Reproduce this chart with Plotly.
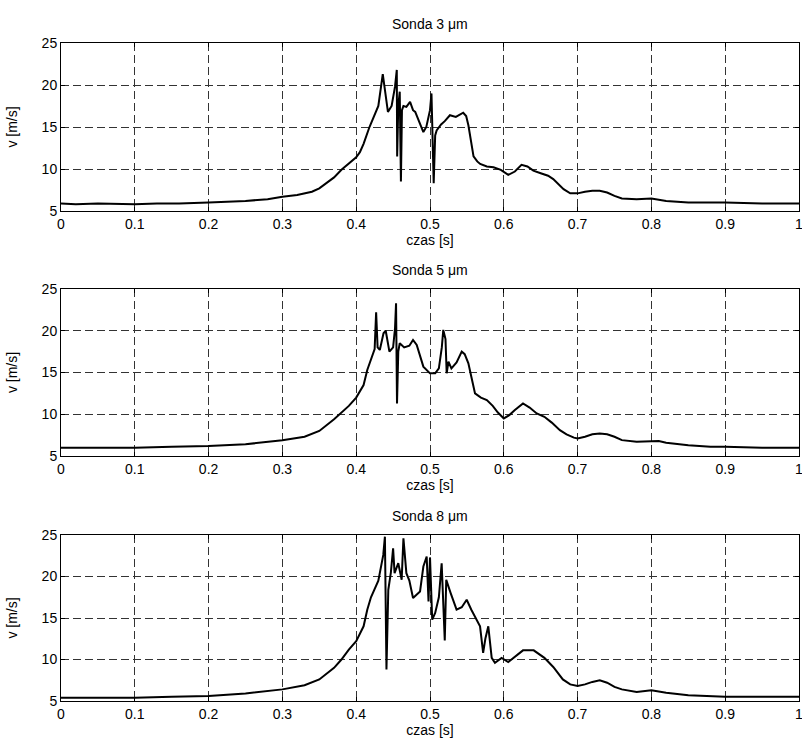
import plotly.graph_objects as go

# ---- data ----
t1 = [0, 0.02, 0.05, 0.08, 0.1, 0.13, 0.16, 0.2, 0.23, 0.25, 0.28, 0.3, 0.32, 0.34, 0.35, 0.36, 0.37, 0.38, 0.39, 0.4,
      0.405, 0.41, 0.418, 0.425, 0.43, 0.436, 0.44, 0.443, 0.448, 0.4526, 0.455, 0.4555, 0.457, 0.459, 0.4606, 0.462,
      0.464, 0.468, 0.473, 0.477, 0.48, 0.485, 0.491, 0.495, 0.5, 0.502, 0.5035, 0.505, 0.507, 0.509, 0.515, 0.52,
      0.527, 0.535, 0.545, 0.549, 0.552, 0.556, 0.559, 0.564, 0.568, 0.577, 0.586, 0.596, 0.606, 0.615, 0.624, 0.632,
      0.64, 0.65, 0.66, 0.667, 0.674, 0.681, 0.69, 0.7, 0.71, 0.72, 0.73, 0.74, 0.75, 0.76, 0.78, 0.8, 0.82, 0.85,
      0.88, 0.9, 0.95, 1.0]
v1 = [5.9, 5.8, 5.9, 5.8, 5.8, 5.9, 5.9, 6.0, 6.1, 6.2, 6.4, 6.7, 6.9, 7.3, 7.7, 8.3, 9.0, 9.9, 10.7, 11.4,
      12.0, 13.0, 15.0, 16.6, 17.5, 21.3, 19.0, 16.8, 17.5, 19.8, 21.8, 11.5, 17.5, 19.2, 8.5, 17.0,
      17.5, 17.4, 18.0, 17.0, 16.8, 15.8, 14.4, 15.0, 17.0, 19.0, 14.5, 8.3, 14.0, 14.6, 15.3, 15.7,
      16.4, 16.2, 16.7, 16.3, 15.2, 13.2, 11.5, 10.9, 10.6, 10.3, 10.2, 9.9, 9.3, 9.7, 10.5, 10.3,
      9.8, 9.5, 9.2, 8.8, 8.2, 7.6, 7.1, 7.1, 7.3, 7.4, 7.4, 7.2, 6.8, 6.5, 6.4, 6.5, 6.2, 6.0,
      6.0, 6.0, 5.9, 5.9]

t2 = [0, 0.05, 0.1, 0.15, 0.2, 0.25, 0.3, 0.33, 0.35, 0.37, 0.39, 0.4, 0.41, 0.415, 0.42, 0.425, 0.427, 0.429,
      0.432, 0.437, 0.44, 0.445, 0.45, 0.4526, 0.454, 0.4553, 0.457, 0.459, 0.465, 0.472, 0.477, 0.482, 0.491, 0.5,
      0.507, 0.512, 0.516, 0.518, 0.521, 0.5226, 0.525, 0.529, 0.536, 0.543, 0.547, 0.552, 0.556, 0.561, 0.569,
      0.577, 0.585, 0.592, 0.6, 0.6075, 0.615, 0.626, 0.635, 0.6446, 0.655, 0.665, 0.676, 0.685, 0.695, 0.7, 0.71,
      0.72, 0.73, 0.74, 0.75, 0.76, 0.78, 0.8, 0.81, 0.82, 0.85, 0.88, 0.9, 0.95, 1.0]
v2 = [6.0, 6.0, 6.0, 6.1, 6.2, 6.4, 6.9, 7.3, 8.0, 9.4, 11.0, 12.0, 13.5, 15.3, 16.5, 17.8, 22.2, 18.0,
      17.7, 19.7, 20.0, 17.5, 18.0, 20.3, 23.3, 11.3, 17.5, 18.5, 18.0, 18.2, 18.9, 18.3, 15.7, 14.9,
      14.9, 15.5, 18.0, 20.1, 19.0, 14.9, 16.3, 15.5, 16.2, 17.5, 17.2, 16.1, 14.5, 12.5, 12.0,
      11.7, 11.0, 10.2, 9.5, 9.9, 10.5, 11.3, 10.8, 10.1, 9.7, 9.0, 8.1, 7.6, 7.2, 7.1, 7.3,
      7.6, 7.7, 7.6, 7.3, 6.9, 6.7, 6.8, 6.8, 6.6, 6.3, 6.1, 6.1, 6.0, 6.0]

t3 = [0, 0.05, 0.1, 0.15, 0.2, 0.25, 0.3, 0.33, 0.35, 0.37, 0.38, 0.39, 0.4, 0.41, 0.415, 0.42, 0.43, 0.4367,
      0.4389, 0.441, 0.4435, 0.447, 0.45, 0.452, 0.457, 0.4616, 0.464, 0.468, 0.472, 0.477, 0.4865, 0.491, 0.4955,
      0.498, 0.5, 0.503, 0.507, 0.512, 0.5158, 0.52, 0.522, 0.528, 0.536, 0.543, 0.5497, 0.556, 0.5678, 0.572,
      0.575, 0.579, 0.5836, 0.588, 0.597, 0.606, 0.615, 0.626, 0.6405, 0.655, 0.667, 0.68, 0.69, 0.7, 0.71, 0.72,
      0.73, 0.74, 0.75, 0.76, 0.78, 0.8, 0.82, 0.85, 0.9, 0.95, 1.0]
v3 = [5.4, 5.4, 5.4, 5.5, 5.6, 5.9, 6.4, 6.9, 7.6, 9.0, 10.0, 11.2, 12.2, 14.0, 16.0, 17.5, 19.5, 22.6,
      24.8, 8.8, 18.4, 20.5, 23.4, 20.4, 21.6, 19.6, 24.6, 20.4, 19.5, 17.4, 18.2, 21.2, 22.4,
      17.0, 22.3, 14.8, 15.6, 17.5, 21.6, 12.3, 19.6, 18.0, 16.0, 16.3, 17.2, 16.0, 14.0, 10.8,
      12.5, 14.0, 10.2, 9.6, 10.2, 9.7, 10.3, 11.1, 11.1, 10.2, 9.1, 7.6, 7.0, 6.8, 7.0, 7.3,
      7.5, 7.2, 6.7, 6.4, 6.1, 6.3, 6.0, 5.7, 5.5, 5.5, 5.5]

titles = ["Sonda 3 μm", "Sonda 5 μm", "Sonda 8 μm"]
x_ticks = [0, 0.1, 0.2, 0.3, 0.4, 0.5, 0.6, 0.7, 0.8, 0.9, 1]
x_ticklabels = ["0", "0.1", "0.2", "0.3", "0.4", "0.5", "0.6", "0.7", "0.8", "0.9", "1"]
y_ticks = [5, 10, 15, 20, 25]
x_label = "czas [s]"
y_label = "v [m/s]"

series = [(t1, v1), (t2, v2), (t3, v3)]

# ---- layout geometry ----
W, H = 802, 745
left, right = 61, 799
tops = [43, 289, 535]
bots = [211, 456, 701]
ml, mr, mt, mb = left, W - right, tops[0], H - bots[-1]
ph = H - mt - mb
domains = [[(H - mb - b) / ph, (H - mb - t) / ph] for t, b in zip(tops, bots)]

FONT = "Liberation Sans, Arial, Helvetica, sans-serif"
FS = 14

fig = go.Figure()
layout = dict(
    width=W, height=H,
    margin=dict(l=ml, r=mr, t=mt, b=mb, autoexpand=False),
    paper_bgcolor="white", plot_bgcolor="white",
    showlegend=False,
    font=dict(family=FONT, size=FS, color="black"),
    annotations=[],
)

for i, (t, v) in enumerate(series):
    n = "" if i == 0 else str(i + 1)
    fig.add_trace(go.Scatter(x=t, y=v, mode="lines",
                             line=dict(color="black", width=2),
                             xaxis="x" + n, yaxis="y" + n))
    axcommon = dict(showline=True, linecolor="black", linewidth=1, mirror="ticks",
                    ticks="inside", ticklen=4, tickcolor="black",
                    showgrid=True, gridcolor="#333333", gridwidth=1, griddash="8px,4px",
                    zeroline=False, automargin=False,
                    tickfont=dict(family=FONT, size=FS, color="black"))
    layout["xaxis" + n] = dict(axcommon, domain=[0, 1], range=[0, 1],
                               tickvals=x_ticks, ticktext=x_ticklabels,
                               ticklabeloverflow="allow",
                               anchor="y" + n,
                               title=dict(text=x_label, standoff=3,
                                          font=dict(family=FONT, size=FS, color="black")))
    layout["yaxis" + n] = dict(axcommon, domain=domains[i], range=[5, 25],
                               tickvals=y_ticks, anchor="x" + n,
                               title=dict(text=y_label, standoff=20,
                                          font=dict(family=FONT, size=FS, color="black")))
    layout["annotations"].append(dict(text=titles[i], x=0.5, xref="paper",
                                      y=domains[i][1], yref="paper",
                                      xanchor="center", yanchor="bottom", yshift=9,
                                      showarrow=False,
                                      font=dict(family=FONT, size=FS, color="black")))

fig.update_layout(**layout)
fig.write_html(
    "out.html",
    config={"displayModeBar": False},
    post_script="document.body.style.margin='0';document.body.style.overflow='hidden';",
)
